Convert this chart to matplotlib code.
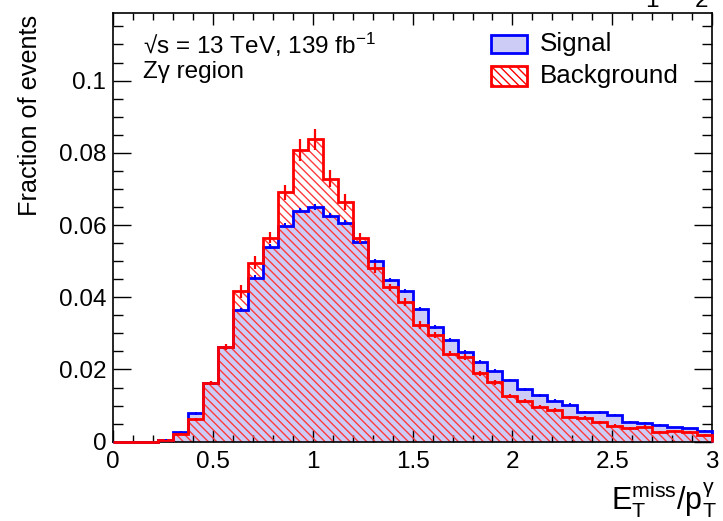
import numpy as np
import matplotlib
matplotlib.use("Agg")
import matplotlib.pyplot as plt
from matplotlib.patches import Rectangle
from matplotlib.ticker import MultipleLocator, FixedLocator, FixedFormatter

plt.rcParams['font.family'] = ['Liberation Sans', 'DejaVu Sans']
plt.rcParams['mathtext.fontset'] = 'custom'
plt.rcParams['mathtext.rm'] = 'Liberation Sans'
plt.rcParams['mathtext.it'] = 'Liberation Sans:italic'
plt.rcParams['mathtext.sf'] = 'Liberation Sans'
plt.rcParams['hatch.linewidth'] = 1.0

# ---- data ----
bin_edges = np.round(np.arange(0, 3.0001, 0.075), 4)
signal = [0.0, 0.0, 0.0, 0.0006, 0.0027, 0.0079, 0.0162, 0.0262, 0.0364, 0.0454,
          0.0540, 0.0598, 0.0640, 0.0649, 0.0626, 0.0607, 0.0554, 0.0501, 0.0448, 0.0417,
          0.0367, 0.0317, 0.0282, 0.0249, 0.0221, 0.0197, 0.0171, 0.0145, 0.0129, 0.0114,
          0.0103, 0.0083, 0.0081, 0.0073, 0.0055, 0.0051, 0.0047, 0.0040, 0.0037, 0.0030]
signal_err = [0.0, 0.0, 0.0, 0.0002, 0.0003, 0.0004, 0.0005, 0.0006, 0.0006, 0.0007,
              0.0007, 0.0007, 0.0008, 0.0008, 0.0007, 0.0007, 0.0007, 0.0006, 0.0006, 0.0006,
              0.0005, 0.0005, 0.0005, 0.0005, 0.0004, 0.0004, 0.0004, 0.0004, 0.0004, 0.0003,
              0.0003, 0.0003, 0.0003, 0.0003, 0.0003, 0.0003, 0.0003, 0.0002, 0.0002, 0.0002]
background = [0.0, 0.0, 0.0, 0.0004, 0.0021, 0.0062, 0.0163, 0.0262, 0.0416, 0.0495,
              0.0565, 0.0691, 0.0808, 0.0837, 0.0728, 0.0664, 0.0563, 0.0480, 0.0428, 0.0388,
              0.0322, 0.0296, 0.0244, 0.0234, 0.0189, 0.0164, 0.0127, 0.0113, 0.0097, 0.0088,
              0.0068, 0.0067, 0.0054, 0.0044, 0.0037, 0.0042, 0.0026, 0.0029, 0.0027, 0.0019]
background_err = [0.0, 0.0, 0.0, 0.0002, 0.0003, 0.0004, 0.0006, 0.0009, 0.0017, 0.0018,
                  0.0016, 0.0021, 0.0031, 0.0028, 0.0024, 0.0022, 0.0014, 0.0014, 0.0010, 0.0011,
                  0.0011, 0.0009, 0.0006, 0.0008, 0.0006, 0.0006, 0.0005, 0.0005, 0.0005, 0.0005,
                  0.0004, 0.0004, 0.0004, 0.0004, 0.0004, 0.0004, 0.0003, 0.0003, 0.0003, 0.0003]
xtick_values = [0, 0.5, 1, 1.5, 2, 2.5, 3]
xtick_labels = ['0', '0.5', '1', '1.5', '2', '2.5', '3']
ytick_values = [0, 0.02, 0.04, 0.06, 0.08, 0.1]
ytick_labels = ['0', '0.02', '0.04', '0.06', '0.08', '0.1']

W, H = 723, 521
fig = plt.figure(figsize=(W / 100, H / 100), dpi=100)
x0, x1, ytop, ybot = 113.3, 712.0, 12.7, 441.7
ax = fig.add_axes([x0 / W, 1 - ybot / H, (x1 - x0) / W, (ybot - ytop) / H])

centers = 0.5 * (bin_edges[:-1] + bin_edges[1:])

blue_fill = '#ccccf7'
ax.stairs(signal, bin_edges, fill=True, facecolor=blue_fill, edgecolor='none', zorder=1)
ax.stairs(background, bin_edges, fill=True, facecolor='none', edgecolor='#ff3a3a',
          hatch='\\\\\\\\', linewidth=0, zorder=2)
ax.stairs(signal, bin_edges, color='#0000ff', linewidth=2.0, zorder=3, clip_on=False)
ax.stairs(background, bin_edges, color='#ff0000', linewidth=2.0, zorder=4, clip_on=False)
ax.errorbar(centers, signal, yerr=signal_err, fmt='none', ecolor='#0000ff',
            elinewidth=1.5, capsize=0, zorder=5)
ax.errorbar(centers, background, yerr=background_err, fmt='none', ecolor='#ff0000',
            elinewidth=1.6, capsize=0, zorder=6)

ax.set_xlim(0, 3)
ax.set_ylim(0, 0.1188)

ax.xaxis.set_major_locator(FixedLocator(xtick_values))
ax.xaxis.set_major_formatter(FixedFormatter(xtick_labels))
ax.xaxis.set_minor_locator(MultipleLocator(0.1))
ax.yaxis.set_major_locator(FixedLocator(ytick_values))
ax.yaxis.set_major_formatter(FixedFormatter(ytick_labels))
ax.yaxis.set_minor_locator(MultipleLocator(0.005))

ax.tick_params(axis='both', which='both', direction='in', top=True, right=True,
               labelsize=17.5, colors='black', width=1.0)
ax.tick_params(axis='x', which='major', length=8.6, pad=7)
ax.tick_params(axis='x', which='minor', length=5)
ax.tick_params(axis='y', which='major', length=13, pad=5)
ax.tick_params(axis='y', which='minor', length=7)
for s in ax.spines.values():
    s.set_linewidth(1.2)
    s.set_zorder(2.5)

fig.text(30 / W, 1 - 15 / H, 'Fraction of events', rotation=90, ha='center', va='top',
         fontsize=18.2)
fig.text(717 / W, 1 - 509 / H, r'$\mathrm{E_{T}^{miss}/p_{T}^{\gamma}}$', ha='right',
         va='baseline', fontsize=22)

ax.text(0.0496, 0.9247, '\u221as = 13 TeV, 139 fb$^{-1}$', transform=ax.transAxes,
        ha='left', va='center', fontsize=17.5)
ax.text(0.0496, 0.862, 'Z\u03b3 region', transform=ax.transAxes, ha='left', va='center',
        fontsize=17.5)

# legend
bx, bw = (491 - x0) / (x1 - x0), 36 / (x1 - x0)
ax.add_patch(Rectangle((bx, (ybot - 53) / (ybot - ytop)), bw, 18 / (ybot - ytop),
                       transform=ax.transAxes, facecolor=blue_fill, edgecolor='#0000ff',
                       linewidth=2.0, zorder=7))
ax.add_patch(Rectangle((bx, (ybot - 86) / (ybot - ytop)), bw, 20 / (ybot - ytop),
                       transform=ax.transAxes, facecolor='white', edgecolor='#ff0000',
                       hatch='\\\\\\\\', linewidth=2.0, zorder=7))
tx = (540 - x0) / (x1 - x0)
ax.text(tx, (ybot - 44) / (ybot - ytop), 'Signal', transform=ax.transAxes, ha='left',
        va='center', fontsize=18.7)
ax.text(tx, (ybot - 76) / (ybot - ytop), 'Background', transform=ax.transAxes, ha='left',
        va='center', fontsize=18.7)

# partially visible labels of a panel above
fig.text(652 / W, 1 - 7 / H, '1', ha='center', va='baseline', fontsize=17.5)
fig.text(702 / W, 1 - 7 / H, '2', ha='center', va='baseline', fontsize=17.5)

fig.savefig('out.png', dpi=100)
